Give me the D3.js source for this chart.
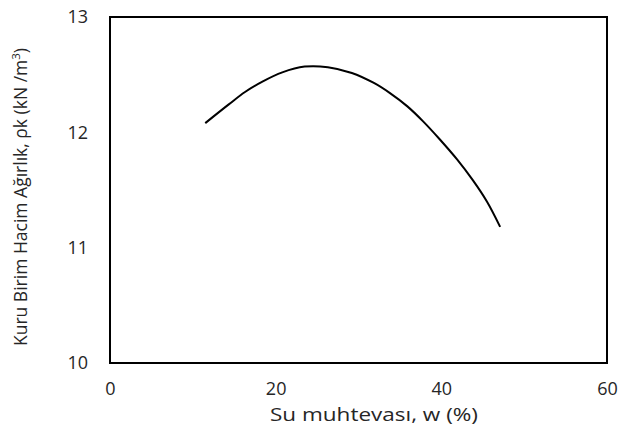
<!DOCTYPE html>
<html>
<head>
<meta charset="utf-8">
<script src="https://cdn.jsdelivr.net/npm/d3@7"></script>
<style>
  body { margin: 0; background: #fff; }
  text { font-family: "Open Sans", "Noto Sans", sans-serif; fill: #262626; }
</style>
</head>
<body>
<div id="chart"></div>
<script>
// compaction curve
const waterContent = [11.5, 14.3, 16.3, 18.4, 20.8, 23.5, 26.3, 29.2, 31.8, 33.8, 35.9, 37.8, 39.8, 41.9, 43.8, 45.5, 47.1];
const dryUnitWeight = [12.08, 12.24, 12.35, 12.44, 12.52, 12.57, 12.565, 12.515, 12.43, 12.34, 12.225, 12.095, 11.94, 11.765, 11.585, 11.40, 11.18];
const xTicks = [0, 20, 40, 60];
const yTicks = [10, 11, 12, 13];

const width = 622, height = 428;
const margin = { top: 17, right: 15, bottom: 65, left: 110 };
const innerW = width - margin.left - margin.right;
const innerH = height - margin.top - margin.bottom;

const data = waterContent.map((w, i) => ({ w: w, g: dryUnitWeight[i] }));

var xScale = d3.scaleLinear()
    .domain([0, 60])
    .range([0, innerW]);

var yScale = d3.scaleLinear()
    .domain([10, 13])
    .range([innerH, 0]);

var svg = d3.select("#chart").append("svg")
    .attr("width", width)
    .attr("height", height);

var g = svg.append("g")
    .attr("transform", "translate(" + margin.left + "," + margin.top + ")");

// x tick labels, no tick marks
g.append("g")
    .attr("transform", "translate(0," + innerH + ")")
    .call(d3.axisBottom(xScale).tickValues(xTicks).tickFormat(d3.format("d")).tickSize(0).tickPadding(19))
    .call(a => a.select(".domain").remove())
    .selectAll("text")
    .style("font-size", "18px")
    .attr("fill", "#404040");

// y tick labels
g.append("g")
    .call(d3.axisLeft(yScale).tickValues(yTicks).tickFormat(d3.format("d")).tickSize(0).tickPadding(22))
    .call(a => a.select(".domain").remove())
    .selectAll("text")
    .style("font-size", "18px")
    .attr("fill", "#404040");

// plot frame
g.append("rect")
    .attr("x", 0)
    .attr("y", 0)
    .attr("width", innerW)
    .attr("height", innerH)
    .attr("fill", "none")
    .attr("stroke", "#000")
    .attr("stroke-width", 2);

var line = d3.line()
    .x(d => xScale(d.w))
    .y(d => yScale(d.g))
    .curve(d3.curveCatmullRom);

g.append("path")
    .datum(data)
    .attr("fill", "none")
    .attr("stroke", "#000")
    .attr("stroke-width", 2)
    .attr("d", line);

// axis titles
svg.append("text")
    .attr("x", 374)
    .attr("y", 421)
    .attr("text-anchor", "middle")
    .attr("textLength", 208)
    .attr("lengthAdjust", "spacingAndGlyphs")
    .style("font-size", "18px")
    .text("Su muhtevası, w (%)");

var yt = svg.append("text")
    .attr("transform", "translate(27,197) rotate(-90)")
    .attr("text-anchor", "middle")
    .style("font-size", "17.5px");
yt.append("tspan").text("Kuru Birim Hacim Ağırlık, ρk (kN /m");
yt.append("tspan").attr("dy", -7).style("font-size", "11.5px").text("3");
yt.append("tspan").attr("dy", 7).text(")");
</script>
</body>
</html>
